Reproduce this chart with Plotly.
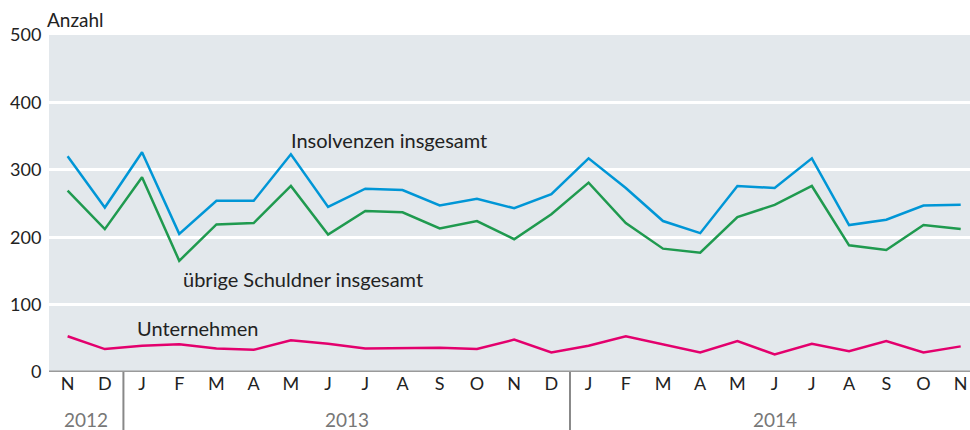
import plotly.graph_objects as go

months = ["N", "D", "J", "F", "M", "A", "M", "J", "J", "A", "S", "O", "N", "D",
          "J", "F", "M", "A", "M", "J", "J", "A", "S", "O", "N"]
years = ["2012", "2013", "2014"]
year_centers = [0.5, 7.5, 19]
year_breaks = [1.5, 13.5]

insolvenzen = [320, 244, 326, 205, 254, 254, 323, 245, 272, 270, 247, 257, 243, 264,
               317, 273, 224, 206, 276, 273, 317, 218, 226, 247, 248]
uebrige = [269, 212, 289, 165, 219, 221, 276, 204, 239, 237, 213, 224, 197, 234,
           281, 221, 183, 177, 230, 248, 276, 188, 181, 218, 212]
unternehmen = [53, 34, 39, 41, 35, 33, 47, 42, 35, 35, 36, 34, 48, 29,
               39, 53, 41, 29, 46, 26, 42, 31, 46, 29, 38]

x = list(range(len(months)))
FONT = "Lato, Noto Sans, sans-serif"

fig = go.Figure()
fig.add_trace(go.Scatter(x=x, y=insolvenzen, mode="lines", line=dict(color="#0096d6", width=2.5)))
fig.add_trace(go.Scatter(x=x, y=uebrige, mode="lines", line=dict(color="#1f9a4f", width=2.5)))
fig.add_trace(go.Scatter(x=x, y=unternehmen, mode="lines", line=dict(color="#e3006d", width=2.5)))

fig.update_layout(
    width=970, height=430,
    margin=dict(l=49, r=0, t=35, b=58, autoexpand=False),
    paper_bgcolor="white", plot_bgcolor="#e3e8ec",
    showlegend=False,
    font=dict(family=FONT, size=18, color="#222"),
    xaxis=dict(range=[-0.5, 24.25], tickvals=x, ticktext=months, showgrid=False,
               zeroline=False, showline=False, ticks="", ticklabelstandoff=-1,
               automargin=False, fixedrange=True),
    yaxis=dict(range=[0, 500], tickvals=[0, 100, 200, 300, 400, 500], showgrid=True,
               gridcolor="white", gridwidth=2.5, zeroline=False, showline=False,
               ticks="outside", ticklen=3, tickcolor="rgba(0,0,0,0)", automargin=False,
               fixedrange=True),
)

# zero axis line
fig.add_shape(type="line", xref="paper", yref="y", x0=0, x1=1, y0=0, y1=0,
              line=dict(color="#9a9a9a", width=3))
for b in year_breaks:
    fig.add_shape(type="line", xref="x", yref="paper", x0=b, x1=b, y0=0, y1=-0.18,
                  line=dict(color="#888888", width=2))
for yr, c in zip(years, year_centers):
    fig.add_annotation(text=yr, x=c, xref="x", y=-0.141, yref="paper", showarrow=False,
                       font=dict(size=19, color="#777"), yanchor="middle")

fig.add_annotation(text="Anzahl", x=0, xref="paper", y=1, yref="paper", xanchor="left",
                   yanchor="middle", yshift=16, xshift=-4, showarrow=False, font=dict(size=19))
fig.add_annotation(text="Insolvenzen insgesamt", x=8.63, y=344, xref="x", yref="y",
                   showarrow=False, font=dict(size=20))
fig.add_annotation(text="übrige Schuldner insgesamt", x=6.33, y=138, xref="x", yref="y",
                   showarrow=False, font=dict(size=20))
fig.add_annotation(text="Unternehmen", x=3.48, y=65, xref="x", yref="y",
                   showarrow=False, font=dict(size=20))

fig.write_html("out.html", config={"displayModeBar": False},
               post_script="document.body.style.margin='0';")
